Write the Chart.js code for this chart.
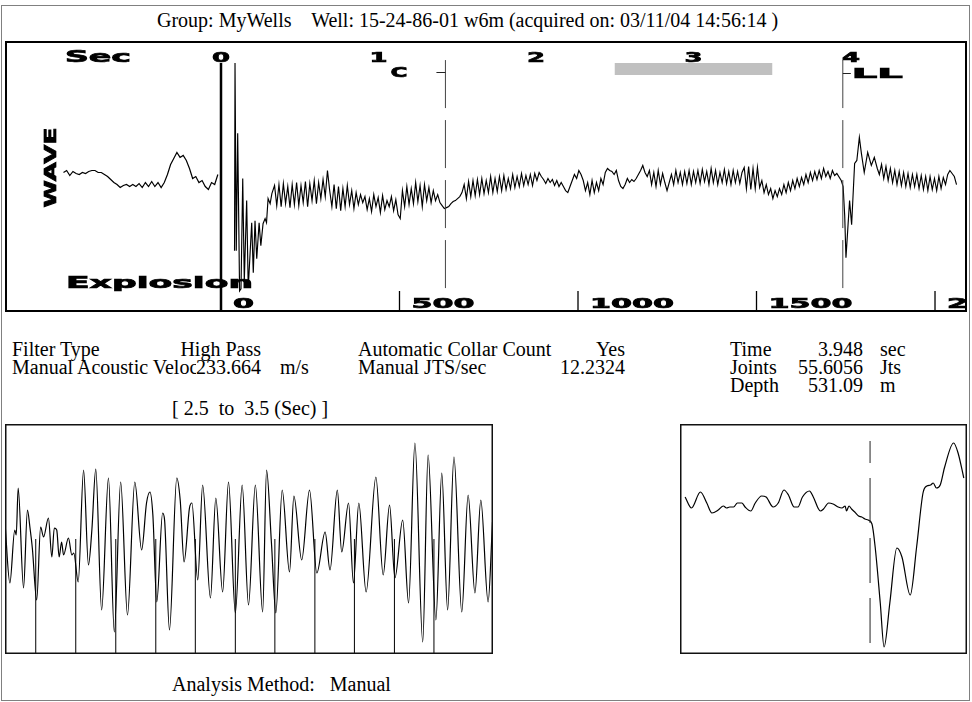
<!DOCTYPE html>
<html>
<head>
<meta charset="utf-8">
<script src="https://cdn.jsdelivr.net/npm/chart.js@4.4.0/dist/chart.umd.min.js"></script>
<style>
body { margin: 0; background: #fff; }
#page { position: relative; width: 972px; height: 702px; font-family: "Liberation Serif", "Times New Roman", serif; font-size: 20px; color: #000; }
.t { position: absolute; line-height: 20px; white-space: pre; }
canvas { position: absolute; }
#outer { position: absolute; left: 1px; top: 5px; width: 967px; height: 694px; border: 1px solid #808080; }
</style>
</head>
<body>
<div id="page">
  <div id="outer"></div>
  <div class="t" style="left:157px;top:10px">Group: MyWells    Well: 15-24-86-01 w6m (acquired on: 03/11/04 14:56:14 )</div>
  <canvas id="topChart" width="962" height="271" style="left:5px;top:41px;width:962px;height:271px"></canvas>

  <div class="t" style="left:12px;top:339px">Filter Type</div>
  <div class="t" style="right:711px;top:339px">High Pass</div>
  <div class="t" style="left:358px;top:339px">Automatic Collar Count</div>
  <div class="t" style="right:347px;top:339px">Yes</div>
  <div class="t" style="left:730px;top:339px">Time</div>
  <div class="t" style="right:109px;top:339px">3.948</div>
  <div class="t" style="left:880px;top:339px">sec</div>

  <div class="t" style="left:12px;top:357px;width:184px;overflow:hidden">Manual Acoustic Velocity</div>
  <div class="t" style="right:711px;top:357px">233.664</div>
  <div class="t" style="left:280px;top:357px">m/s</div>
  <div class="t" style="left:358px;top:357px">Manual JTS/sec</div>
  <div class="t" style="right:347px;top:357px">12.2324</div>
  <div class="t" style="left:730px;top:357px">Joints</div>
  <div class="t" style="right:109px;top:357px">55.6056</div>
  <div class="t" style="left:880px;top:357px">Jts</div>

  <div class="t" style="left:730px;top:375px">Depth</div>
  <div class="t" style="right:109px;top:375px">531.09</div>
  <div class="t" style="left:880px;top:375px">m</div>

  <div class="t" style="left:172px;top:398px">[ 2.5  to  3.5 (Sec) ]</div>
  <canvas id="zoomChart" width="488" height="230" style="left:5px;top:424px;width:488px;height:230px"></canvas>
  <canvas id="echoChart" width="287" height="230" style="left:680px;top:424px;width:287px;height:230px"></canvas>
  <div class="t" style="left:172px;top:674px">Analysis Method:   Manual</div>
</div>
<script>
// axis marks
const secTicks = [0, 1, 2, 3, 4];
const depthTicks = [0, 500, 1000, 1500, 2000];
const markerTimes = [1.425, 3.948];
const markerNames = ['C', 'LL'];
const windowStart = 2.5, windowEnd = 3.5;
const explosionTime = 0;

// acoustic trace, before the shot (sec, amplitude)
const preStart = -1.00, preStep = 0.02;
const preWave = [
    4, 6, 1, 5, 3, 2, 4, 3, 5, 6,
    6, 4, 4, 2, 0, -3, -6, -8, -11, -9,
    -8, -10, -8, -10, -7, -11, -6, -10, -5, -10,
    -6, -11, -6, 2, 12, 18, 24, 19, 21, 16,
    8, -2, 0, -6, -4, -10, -13, -6, -8, 2
];

// shot ringing right after the explosion
const blastTime = [0.086, 0.089, 0.097, 0.106, 0.118, 0.127, 0.138, 0.148, 0.163, 0.173, 0.195,
    0.205, 0.216, 0.227, 0.242, 0.253, 0.267, 0.280, 0.289, 0.299, 0.312, 0.323];
const blastWave = [-74, 113, -74, 43, -114, -112, -2, -104, -24, -111, -46,
    -96, -44, -82, -46, -69, -47, -42, -46, -22, -27, -17];

// collar section, 0.34 s to 3.91 s
const midStart = 0.34, midStep = 0.014;
const midWave = [
    -9, -29, -8, -30, -7, -27, -10, -31, -8, -28,
    -6, -29, -9, -26, -5, -30, -7, -24, -4, -27,
    -6, -22, -3, -20, 6, -14, -30, -8, -32, -10,
    -34, -12, -30, -9, -28, -14, -32, -16, -28, -18,
    -26, -20, -33, -22, -35, -18, -30, -21, -36, -19,
    -33, -24, -30, -20, -34, -23, -38, -42, -14, -30,
    -10, -28, -12, -27, -6, -25, -9, -30, -8, -24,
    -11, -26, -14, -24, -18, -26, -29, -32, -31, -30,
    -27, -25, -24, -22, -20, -16, -8, -22, -5, -20,
    -4, -19, -3, -18, -2, -17, -4, -16, 0, -16,
    -2, -15, 0, -14, 1, -13, -2, -12, 2, -11,
    0, -10, 3, -9, 1, -8, 2, -9, 3, -4,
    4, 0, -3, -7, -2, -6, -3, -9, -4, -10,
    -6, -10, -14, -16, -10, -4, 2, -2, 6, 2,
    -4, -14, -6, -18, -4, -16, -6, -14, -2, -8,
    4, 8, 6, 5, 2, 6, -4, -10, -12, -8,
    -2, -6, -3, -5, -2, 2, 6, 11, 4, 0,
    6, -8, 4, -10, 6, -8, 3, -6, -14, -6,
    2, -8, 6, -6, 4, -8, 5, -7, 6, -8,
    5, -6, 6, -7, 7, -5, 5, -8, 8, -6,
    6, -8, 4, -6, 7, -7, 5, -8, 6, -6,
    5, -7, 4, 9, -12, 10, -13, 8, -12, 9,
    -11, -4, -16, -8, -18, -12, -22, -14, -20, -12,
    -18, -8, -16, -6, -14, -4, -12, -2, -10, -1,
    -8, 2, -6, 4, -4, 5, -3, 6, -2, 8,
    0, 5, -2, 6, 1, 3
];

// liquid level kick
const llTime = [3.938, 3.950, 3.960, 3.968, 3.991, 4.004, 4.023, 4.037, 4.053, 4.066, 4.084, 4.106, 4.129, 4.148, 4.167];
const llWave = [-4, -10, -39, -81, -24, -48, 13, 16, 39, 23, 4, 24, 11, 19, 8];

const tailStart = 4.18, tailStep = 0.014;
const tailWave = [
    2, 12, -2, 10, -4, 8, -6, 6, -8, 5,
    -9, 4, -10, 3, -11, 2, -10, 2, -12, 1,
    -13, 0, -14, 0, -13, -2, -14, 0, -12, -1,
    -8, 2, 6, 3, 0, -8
];

// 2.5 - 3.5 sec window
const zoomTime = [2.500, 2.510, 2.520, 2.523, 2.527, 2.538, 2.546, 2.551, 2.556, 2.565,
    2.573, 2.579, 2.589, 2.596, 2.601, 2.606, 2.611, 2.616, 2.620, 2.630,
    2.637, 2.641, 2.650, 2.661, 2.671, 2.678, 2.686, 2.698, 2.712, 2.724,
    2.737, 2.751, 2.766, 2.780, 2.790, 2.797, 2.803, 2.811, 2.823, 2.827,
    2.837, 2.852, 2.859, 2.867, 2.878, 2.883, 2.895, 2.905, 2.921, 2.932,
    2.946, 2.958, 2.972, 2.986, 2.999, 3.013, 3.028, 3.036, 3.046, 3.055,
    3.068, 3.083, 3.092, 3.108, 3.124, 3.139, 3.156, 3.166, 3.181, 3.190,
    3.204, 3.214, 3.225, 3.240, 3.260, 3.275, 3.288, 3.299, 3.315, 3.327,
    3.340, 3.356, 3.367, 3.383, 3.395, 3.407, 3.420, 3.436, 3.449, 3.463,
    3.475, 3.490, 3.499];
const zoomWave = [16, -44, 9, 4, 51, -49, 29, 12, -9, -61,
    12, 2, 21, -18, 11, 9, -18, -3, -16, 1,
    -16, -14, -43, 69, -26, 9, 70, -71, 61, -93,
    57, -76, 57, -11, 36, 47, 24, -63, 26, 19,
    -91, 61, 39, -23, 31, 36, -41, 54, -59, 41,
    -53, 57, -74, 54, -66, 54, -73, 69, -4, -74,
    49, -33, 43, -21, 49, -34, 7, -31, 49, -13,
    36, -44, 36, -53, 62, -36, 34, -39, 19, -64,
    96, -103, 84, -81, 66, -71, 82, -73, 44, -54,
    39, -63, 17];
const jointTimes = [2.563, 2.645, 2.727, 2.809, 2.890, 2.972, 3.053, 3.135, 3.216, 3.298, 3.379];

// echo around the liquid level
const echoTime = [3.658, 3.668, 3.682, 3.692, 3.700, 3.710, 3.718, 3.723, 3.728, 3.734,
    3.740, 3.747, 3.752, 3.761, 3.768, 3.778, 3.785, 3.796, 3.804, 3.813,
    3.820, 3.829, 3.835, 3.842, 3.853, 3.859, 3.870, 3.875, 3.883, 3.890,
    3.898, 3.904, 3.909, 3.911, 3.915, 3.919, 3.924, 3.930, 3.935, 3.940,
    3.945, 3.951, 3.956, 3.964, 3.970, 3.979, 3.990, 3.998, 4.011, 4.021,
    4.031, 4.037, 4.043, 4.047, 4.052, 4.058, 4.065, 4.079, 4.086, 4.095];
const echoWave = [42, 31, 47, 36, 26, 29, 33, 31, 32, 32,
    36, 36, 32, 28, 36, 43, 42, 32, 36, 49,
    44, 32, 32, 42, 48, 42, 28, 30, 36, 35,
    32, 31, 33, 28, 33, 30, 27, 23, 22, 20,
    19, 15, -8, -64, -108, -64, -9, -18, -56, -8,
    46, 53, 54, 56, 51, 54, 72, 96, 86, 61];

function sampled(start, step, values) {
    return values.map((v, i) => ({ x: +(start + i * step).toFixed(4), y: v }));
}

function paired(times, values) {
    return times.map((t, i) => ({ x: t, y: values[i] }));
}

function stems(times, from, to) {
    const pts = [];
    times.forEach(t => pts.push({ x: t, y: from }, { x: t, y: to }, { x: t, y: null }));
    return pts;
}

// heavy, horizontally stretched label like the original plot font
function wideText(ctx, text, x, y, w, cap, align) {
    ctx.save();
    ctx.font = 'bold ' + (cap / 0.73).toFixed(1) + 'px "DejaVu Sans"';
    const m = ctx.measureText(text).width;
    ctx.translate(x, y);
    ctx.scale(w / m, 1);
    ctx.textBaseline = 'alphabetic';
    const left = align === 'center' ? -m / 2 : 0;
    ctx.fillText(text, left, 0);
    ctx.lineWidth = 0.7;
    ctx.strokeStyle = ctx.fillStyle;
    ctx.strokeText(text, left, 0);
    ctx.restore();
}

function baseOptions(xmin, xmax, ymin, ymax) {
    return {
        responsive: false,
        animation: false,
        devicePixelRatio: 1,
        events: [],
        layout: { padding: 0 },
        plugins: { legend: { display: false }, tooltip: { enabled: false } },
        elements: { point: { radius: 0 }, line: { borderColor: '#000', borderWidth: 1, fill: false } },
        scales: {
            x: { type: 'linear', min: xmin, max: xmax, display: false },
            y: { type: 'linear', min: ymin, max: ymax, display: false }
        }
    };
}

const boxFrame = {
    id: 'boxFrame',
    afterDraw(chart) {
        const a = chart.chartArea, ctx = chart.ctx;
        ctx.save();
        ctx.lineWidth = 1.5;
        ctx.strokeStyle = '#111';
        ctx.strokeRect(a.left + 0.75, a.top + 0.75, a.right - a.left - 1.5, a.bottom - a.top - 1.5);
        ctx.restore();
    }
};

const topDeco = {
    id: 'topDeco',
    afterDraw(chart) {
        const ctx = chart.ctx, x = chart.scales.x, xd = chart.scales.xd, a = chart.chartArea;
        ctx.save();
        ctx.fillStyle = '#000';
        wideText(ctx, 'Sec', 60, 21, 66, 11);
        secTicks.forEach(s => wideText(ctx, String(s), x.getPixelForValue(s), 21, 18, 10.5, 'center'));

        const c = x.getPixelForValue(markerTimes[0]);
        const ll = x.getPixelForValue(markerTimes[1]);
        wideText(ctx, markerNames[0], c - 55, 36, 17, 10.5);
        wideText(ctx, markerNames[1], ll + 9, 37, 51, 10);
        ctx.strokeStyle = '#222';
        ctx.lineWidth = 1.2;
        ctx.beginPath();
        ctx.moveTo(c - 9, 31.5); ctx.lineTo(c, 31.5);
        ctx.moveTo(ll, 32.5); ctx.lineTo(ll + 8, 32.5);
        ctx.stroke();

        wideText(ctx, 'Explosion', 61, 247, 187, 11);

        ctx.save();
        ctx.beginPath();
        ctx.rect(a.left, a.top, a.right - a.left - 2, a.bottom - a.top);
        ctx.clip();
        depthTicks.forEach(d => wideText(ctx, String(d), xd.getPixelForValue(d) + 12, 267, 21 * String(d).length, 10));
        ctx.restore();

        ctx.save();
        ctx.translate(51, 126.5);
        ctx.rotate(-Math.PI / 2);
        wideText(ctx, 'WAVE', -40, 0, 80, 12);
        ctx.restore();

        ctx.lineWidth = 2;
        ctx.strokeStyle = '#000';
        ctx.strokeRect(a.left + 1, a.top + 1, a.right - a.left - 2, a.bottom - a.top - 2);
        ctx.restore();
    }
};

// top: full record
const topOpts = baseOptions(-1.3714, 4.7365, -135, 135);
topOpts.scales.xd = { type: 'linear', position: 'bottom', min: -605, max: 2089.6, display: false };

const mainTrace = paired(blastTime, blastWave)
    .concat(sampled(midStart, midStep, midWave))
    .concat(paired(llTime, llWave))
    .concat(sampled(tailStart, tailStep, tailWave));

new Chart(document.getElementById('topChart'), {
    type: 'line',
    data: {
        datasets: [
            { data: [{ x: windowStart, y: 107 }, { x: windowEnd, y: 107 }], borderColor: '#c0c0c0', borderWidth: 12, borderCapStyle: 'butt' },
            { data: [{ x: explosionTime, y: 113 }, { x: explosionTime, y: -135 }], borderWidth: 2.5 },
            ...markerTimes.map(t => ({ data: [{ x: t, y: 116 }, { x: t, y: -114 }], borderColor: '#444', borderWidth: 1, borderDash: [48, 12] })),
            { data: stems(depthTicks.slice(1), -114, -135), xAxisID: 'xd', borderWidth: 1.3 },
            { data: sampled(preStart, preStep, preWave), borderWidth: 1.2 },
            { data: mainTrace, borderWidth: 1.15 }
        ]
    },
    options: topOpts,
    plugins: [topDeco]
});

// bottom left: 2.5 - 3.5 sec with joint marks
new Chart(document.getElementById('zoomChart'), {
    type: 'line',
    data: {
        datasets: [
            { data: stems(jointTimes, -115, 0), borderWidth: 1 },
            { data: paired(zoomTime, zoomWave), borderWidth: 1.2, cubicInterpolationMode: 'monotone' }
        ]
    },
    options: baseOptions(windowStart, windowEnd, -115, 115),
    plugins: [boxFrame]
});

// bottom right: liquid level echo
new Chart(document.getElementById('echoChart'), {
    type: 'line',
    data: {
        datasets: [
            { data: [{ x: markerTimes[1], y: 98 }, { x: markerTimes[1], y: -108 }], borderColor: '#222', borderWidth: 1, borderDash: [45, 15], borderDashOffset: 23 },
            { data: paired(echoTime, echoWave), borderWidth: 1.2, cubicInterpolationMode: 'monotone' }
        ]
    },
    options: baseOptions(3.65, 4.10, -115, 115),
    plugins: [boxFrame]
});
</script>
</body>
</html>
